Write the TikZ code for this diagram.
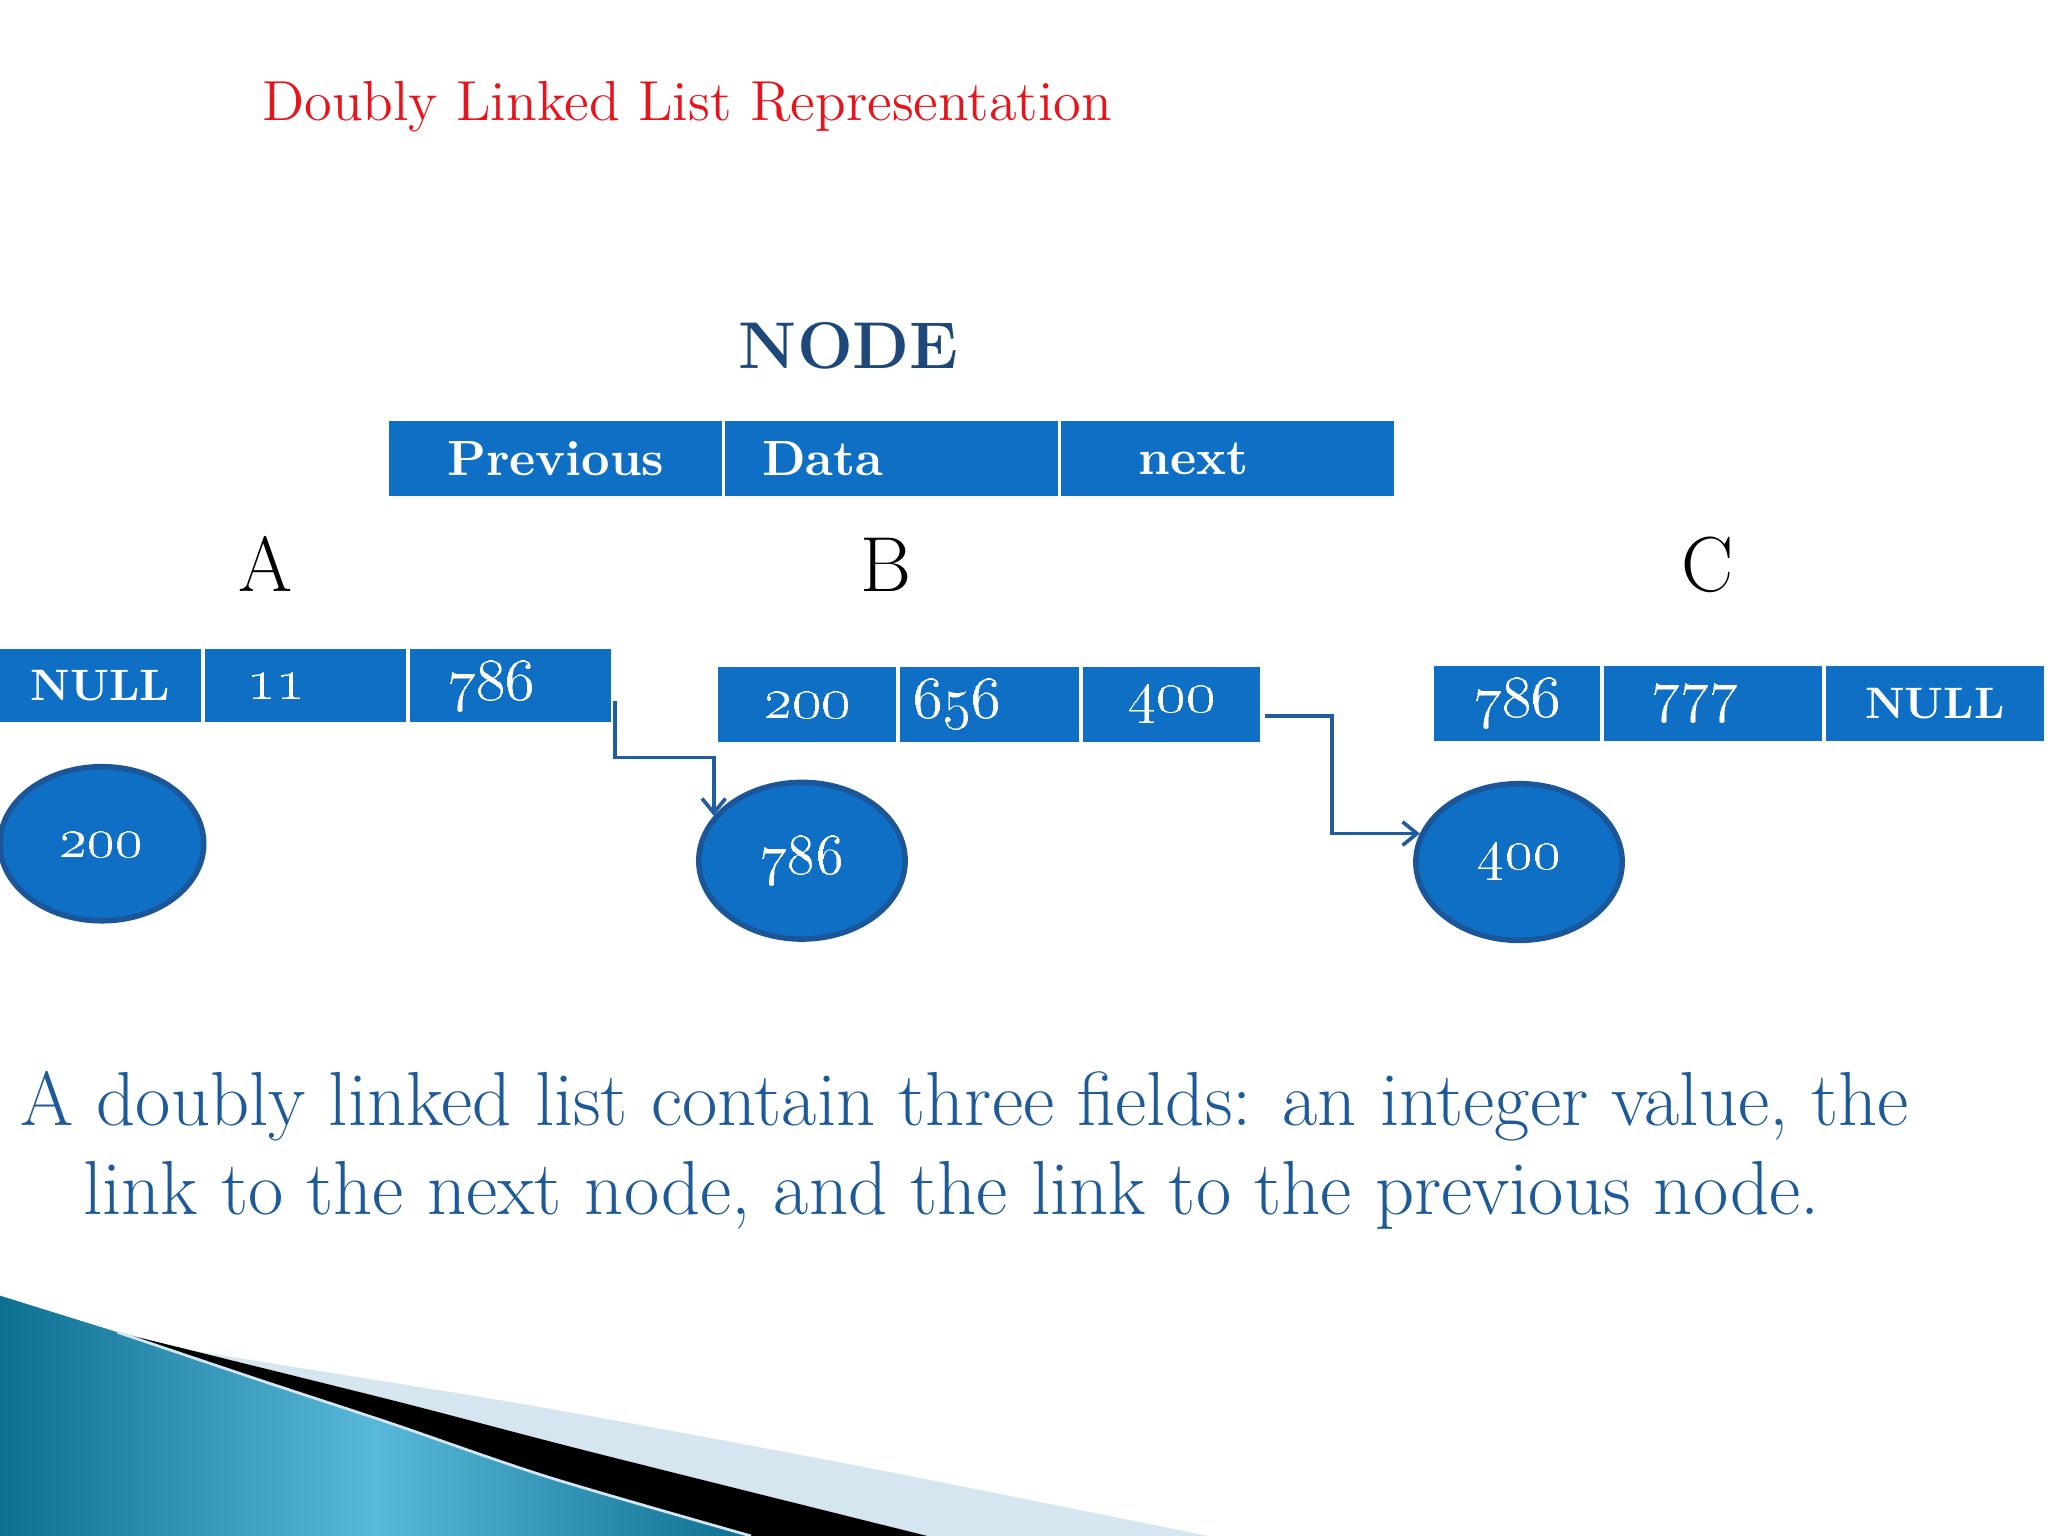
\documentclass[tikz,border=0pt]{standalone}
\usepackage{fix-cm}
\usepackage{xcolor}
\usetikzlibrary{shapes.geometric,arrows.meta}
\definecolor{cellBlue}{RGB}{14,111,197}
\definecolor{ringBlue}{RGB}{27,87,152}
\definecolor{linkBlue}{RGB}{33,92,160}
\definecolor{textBlue}{RGB}{31,90,152}
\definecolor{nodeBlue}{RGB}{30,72,122}
\definecolor{titleRed}{RGB}{232,20,28}
\definecolor{swooshTeal}{RGB}{14,112,145}
\definecolor{swooshLight}{RGB}{88,184,218}
\definecolor{swooshPale}{RGB}{214,230,240}

\tikzset{
  cell/.style={fill=cellBlue, text=white, inner sep=0pt, font=\fontsize{13}{15}\selectfont\bfseries},
  headcell/.style={cell, minimum width=2.55cm, minimum height=0.58cm, font=\fontsize{10.8}{13}\selectfont\bfseries},
  nullcell/.style={cell, font=\fontsize{9.6}{12}\selectfont\bfseries},
  ring/.style={ellipse, draw=ringBlue, line width=1.2pt, fill=cellBlue, text=white, inner sep=0pt,
    minimum width=1.58cm, minimum height=1.2cm, font=\fontsize{12.5}{14}\selectfont},
  link/.style={draw=linkBlue, line width=0.8pt, -{Straight Barb[length=1.1mm,width=1.8mm]}},
  tag/.style={anchor=base, font=\fontsize{17}{20}\selectfont},
  body/.style={anchor=base west, text=textBlue, inner sep=0pt, font=\fontsize{16.7}{20}\selectfont}
}

\begin{document}
\begin{tikzpicture}
  \useasboundingbox (0,0) rectangle (15.68,11.76);

  % swoosh at the bottom
  \fill[swooshPale] (0.9,1.56) -- plot[smooth] coordinates {(0.9,1.56) (1.3,1.45) (4.0,1.01) (6.5,0.55) (9.25,0)}
    -- (7.10,0) -- plot[smooth] coordinates {(7.10,0) (4.5,0.65) (3.0,1.04) (0.9,1.56)} -- cycle;
  \fill[black] (0.9,1.56) -- plot[smooth] coordinates {(0.9,1.56) (3.0,1.04) (4.5,0.65) (7.10,0)}
    -- (5.75,0) -- plot[smooth] coordinates {(5.75,0) (4.2,0.45) (3.0,0.86) (2.0,1.19) (0.9,1.56)} -- cycle;
  \shade[left color=swooshTeal, right color=swooshTeal, middle color=swooshLight]
    (0,0) -- (0,1.84) -- plot[smooth] coordinates {(0,1.84) (0.45,1.70) (0.9,1.56)}
    -- plot[smooth] coordinates {(0.9,1.56) (2.0,1.19) (3.0,0.86) (4.2,0.45) (5.75,0)} -- cycle;
  \draw[swooshPale, line width=0.6pt] plot[smooth] coordinates {(0.9,1.56) (2.0,1.19) (3.0,0.86) (4.2,0.45) (5.75,0)};

  % title and header
  \node[anchor=base west, text=titleRed, inner sep=0pt, font=\fontsize{12.3}{15}\selectfont] (title) at (2.0,10.84) {Doubly Linked List Representation};
  \node[anchor=base west, text=nodeBlue, inner sep=0pt, font=\fontsize{14.4}{17}\selectfont\bfseries] (nodehead) at (5.65,8.94) {NODE};
  \node[headcell] (hprev) at (4.255,8.25) {Previous};
  \node[headcell] (hdata) at (6.825,8.25) {Data\hspace*{1.05cm}};
  \node[headcell] (hnext) at (9.395,8.25) {next\hspace*{0.51cm}};

  \node[tag] (tagA) at (2.03,7.23) {A};
  \node[tag] (tagB) at (6.78,7.23) {B};
  \node[tag] (tagC) at (13.07,7.23) {C};

  % node A
  \node[nullcell, minimum width=1.54cm, minimum height=0.56cm] (aprev) at (0.77,6.51) {NULL};
  \node[cell, minimum width=1.54cm, minimum height=0.56cm] (adata) at (2.34,6.51) {\oldstylenums{11}\hspace*{0.44cm}};
  \node[cell, minimum width=1.54cm, minimum height=0.56cm] (anext) at (3.91,6.51) {\oldstylenums{786}\hspace*{0.30cm}};
  \node[ring, minimum width=1.56cm, minimum height=1.18cm] (acirc) at (0.78,5.30) {\oldstylenums{200}};

  % node B
  \node[cell, minimum width=1.36cm, minimum height=0.57cm] (bprev) at (6.18,6.365) {\oldstylenums{200}};
  \node[cell, minimum width=1.37cm, minimum height=0.57cm] (bdata) at (7.575,6.365) {\oldstylenums{656}\hspace*{0.49cm}};
  \node[cell, minimum width=1.36cm, minimum height=0.57cm] (bnext) at (8.97,6.365) {\oldstylenums{400}};
  \node[ring] (bcirc) at (6.14,5.17) {\oldstylenums{786}};

  % node C
  \node[cell, minimum width=1.27cm, minimum height=0.57cm] (cprev) at (11.615,6.375) {\oldstylenums{786}};
  \node[cell, minimum width=1.67cm, minimum height=0.57cm] (cdata) at (13.115,6.375) {\oldstylenums{777}\hspace*{0.27cm}};
  \node[nullcell, minimum width=1.67cm, minimum height=0.57cm] (cnext) at (14.815,6.375) {NULL};
  \node[ring] (ccirc) at (11.63,5.16) {\oldstylenums{400}};

  % links
  \draw[link] ([shift={(0.02,-0.12)}]anext.east) -- ++(0,-0.43) -| (bcirc.153);
  \draw[link] ([shift={(0.03,-0.085)}]bnext.east) -- ++(0.51,0) |- (ccirc.164);

  % text
  \node[body] (line1) at (0.15,3.14) {A doubly linked list contain three fields: an integer value, the};
  \node[body] (line2) at (0.63,2.46) {link to the next node, and the link to the previous node.};
\end{tikzpicture}
\end{document}
